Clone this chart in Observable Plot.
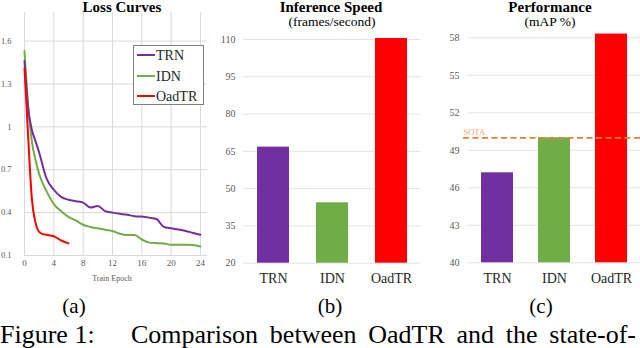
<!DOCTYPE html>
<html>
<head>
<meta charset="utf-8">
<script src="https://cdn.jsdelivr.net/npm/d3@7"></script>
<script src="https://cdn.jsdelivr.net/npm/@observablehq/plot@0.6"></script>
<style>
  html, body { margin: 0; padding: 0; background: #fff; }
  #root { position: relative; width: 640px; height: 348px; overflow: hidden; font-family: "Liberation Serif", "Times New Roman", serif; }
  #root svg, #root svg text, #root svg g { font-family: "Liberation Serif", "Times New Roman", serif !important; }
  .panel { position: absolute; top: 0; }
  #overlay { position: absolute; left: 0; top: 0; pointer-events: none; }
  .cap { position: absolute; font-family: "Liberation Serif", "Times New Roman", serif; font-size: 26px; line-height: 26px; white-space: nowrap; color: #000; }
</style>
</head>
<body>
<div id="root">
  <div id="pa" class="panel" style="left:0px"></div>
  <div id="pb" class="panel" style="left:210px"></div>
  <div id="pc" class="panel" style="left:420px"></div>
  <svg id="overlay" width="640" height="348"></svg>
  <div class="cap" style="left:0px; top:322px;">Figure 1:</div>
  <div class="cap" style="left:131px; top:322px; width:505px; white-space:normal; text-align:justify; text-align-last:justify;">Comparison between OadTR and the state-of-</div>
</div>
<script>
// ---------- data ----------
const models = ["TRN", "IDN", "OadTR"];
const modelColors = ["#7030A0", "#70AD47", "#FF0000"];

// (a) loss curves
const epochs = [0, 0.5, 1, 1.5, 2, 3, 4, 5, 6, 7, 8, 9, 10, 11, 12, 13, 14, 15, 16, 17, 18, 19, 20, 21, 22, 23, 24];
const trnLoss = [1.46, 1.13, 0.98, 0.9, 0.82, 0.64, 0.56, 0.51, 0.49, 0.48, 0.47, 0.435, 0.447, 0.41, 0.40, 0.392, 0.385, 0.375, 0.372, 0.365, 0.355, 0.30, 0.29, 0.282, 0.272, 0.258, 0.245];
const idnLoss = [1.53, 1.15, 0.9, 0.77, 0.67, 0.55, 0.46, 0.41, 0.37, 0.345, 0.315, 0.30, 0.29, 0.28, 0.272, 0.252, 0.243, 0.243, 0.212, 0.19, 0.186, 0.184, 0.175, 0.175, 0.175, 0.174, 0.163];
const oadEpochs = [0, 0.5, 1, 1.5, 2, 2.5, 3, 4, 5, 6];
const oadLoss = [1.41, 0.93, 0.5, 0.33, 0.265, 0.25, 0.245, 0.235, 0.205, 0.185];
const lossTicks = [0.1, 0.4, 0.7, 1, 1.3, 1.6];
const epochTicks = [0, 4, 8, 12, 16, 20, 24];

// (b) inference speed (frames/second)
const speed = [66.7, 44.3, 110.4];
const speedTicks = [20, 35, 50, 65, 80, 95, 110];

// (c) performance (mAP %)
const mAP = [47.2, 50.0, 58.3];
const sota = 50.0;
const mapTicks = [40, 43, 46, 49, 52, 55, 58];

// ---------- build ----------
const FONT = '"Liberation Serif", "Times New Roman", serif';
const TICKFILL = "#595959";

const trnRows = epochs.map((e, i) => ({epoch: e, loss: trnLoss[i]}));
const idnRows = epochs.map((e, i) => ({epoch: e, loss: idnLoss[i]}));
const oadRows = oadEpochs.map((e, i) => ({epoch: e, loss: oadLoss[i]}));

const plotA = Plot.plot({
  width: 210, height: 272,
  marginLeft: 24, marginRight: 3, marginTop: 12, marginBottom: 17,
  style: {fontFamily: FONT, background: "transparent"},
  x: {domain: [0, 24.96]},
  y: {domain: [0.1, 1.8]},
  marks: [
    Plot.ruleY(lossTicks, {stroke: "#d9d9d9", strokeWidth: 1}),
    Plot.ruleX(epochTicks, {stroke: "#d9d9d9", strokeWidth: 1}),
    Plot.axisX({ticks: epochTicks, tickSize: 0, tickPadding: 4, fontSize: 9, fill: TICKFILL, label: null}),
    Plot.axisY({ticks: lossTicks, tickSize: 0, tickPadding: 13, fontSize: 8.5, fill: TICKFILL, label: null, tickFormat: d => String(d)}),
    Plot.line(idnRows, {x: "epoch", y: "loss", stroke: modelColors[1], strokeWidth: 2, curve: "monotone-x"}),
    Plot.line(trnRows, {x: "epoch", y: "loss", stroke: modelColors[0], strokeWidth: 2, curve: "monotone-x"}),
    Plot.line(oadRows, {x: "epoch", y: "loss", stroke: modelColors[2], strokeWidth: 2, curve: "monotone-x"})
  ]
});
document.getElementById("pa").appendChild(plotA);

const speedRows = models.map((m, i) => ({model: m, value: speed[i]}));
const plotB = Plot.plot({
  width: 215, height: 290,
  marginLeft: 33, marginRight: 5, marginTop: 39, marginBottom: 27.3,
  style: {fontFamily: FONT, background: "transparent"},
  x: {domain: models, paddingInner: 0.46, paddingOuter: 0.23},
  y: {domain: [speedTicks[0], speedTicks[speedTicks.length - 1]]},
  color: {domain: models, range: modelColors},
  marks: [
    Plot.ruleY(speedTicks, {stroke: "#e4e4e4", strokeWidth: 1}),
    Plot.barY(speedRows, {x: "model", y1: () => speedTicks[0], y2: "value", fill: "model"}),
    Plot.axisX({tickSize: 0, tickPadding: 10, fontSize: 14, fill: "#262626", label: null}),
    Plot.axisY({ticks: speedTicks, tickSize: 0, tickPadding: 8, fontSize: 10, fill: TICKFILL, label: null})
  ]
});
document.getElementById("pb").appendChild(plotB);

const mapRows = models.map((m, i) => ({model: m, value: mAP[i]}));
const plotC = Plot.plot({
  width: 220, height: 290,
  marginLeft: 43, marginRight: 0, marginTop: 37.3, marginBottom: 27.7,
  style: {fontFamily: FONT, background: "transparent"},
  x: {domain: models, range: [48, 220], paddingInner: 0.44, paddingOuter: 0.22},
  y: {domain: [mapTicks[0], mapTicks[mapTicks.length - 1]]},
  color: {domain: models, range: modelColors},
  marks: [
    Plot.ruleY(mapTicks, {stroke: "#e4e4e4", strokeWidth: 1, insetLeft: 5}),
    Plot.barY(mapRows, {x: "model", y1: () => mapTicks[0], y2: "value", fill: "model"}),
    Plot.ruleY([sota], {stroke: "#ED7D31", strokeWidth: 1.7, strokeDasharray: "6,3.5"}),
    Plot.text([sota], {y: d => d, frameAnchor: "left", text: () => "SOTA", textAnchor: "start", dy: -6, fontSize: 8.5, fill: "#F4A070"}),
    Plot.axisX({tickSize: 0, tickPadding: 10, fontSize: 14, fill: "#262626", label: null}),
    Plot.axisY({ticks: mapTicks, tickSize: 0, tickPadding: 4, fontSize: 10, fill: TICKFILL, label: null})
  ]
});
document.getElementById("pc").appendChild(plotC);

// ---------- overlay text: titles, legend, sub-captions ----------
const ov = d3.select("#overlay").style("font-family", FONT);
function txt(x, y, s, size, opts = {}) {
  return ov.append("text").attr("x", x).attr("y", y).attr("font-size", size)
    .attr("text-anchor", opts.anchor || "middle")
    .attr("font-weight", opts.weight || "normal")
    .attr("fill", opts.fill || "#000").text(s);
}
txt(122, 11.7, "Loss Curves", 15, {weight: "bold"});
txt(331, 11.7, "Inference Speed", 15, {weight: "bold"});
txt(332, 26, "(frames/second)", 13.5);
txt(550, 11.7, "Performance", 15, {weight: "bold"});
txt(550, 26, "(mAP %)", 13.5);
txt(112, 281, "Train Epoch", 8, {fill: TICKFILL});

// legend
const lg = ov.append("g");
lg.append("rect").attr("x", 133.5).attr("y", 45.5).attr("width", 70).attr("height", 59)
  .attr("fill", "#fff").attr("stroke", "#7f7f7f").attr("stroke-width", 1);
const legendY = [55, 76, 96];
models.forEach((m, i) => {
  lg.append("line").attr("x1", 137).attr("x2", 155).attr("y1", legendY[i]).attr("y2", legendY[i])
    .attr("stroke", modelColors[i]).attr("stroke-width", 2);
  txt(156, legendY[i] + 4.6, m, 14, {anchor: "start", fill: "#262626"});
});

// sub-figure labels
txt(74, 313, "(a)", 21);
txt(330, 313, "(b)", 21);
txt(541, 313, "(c)", 21);
</script>
</body>
</html>
